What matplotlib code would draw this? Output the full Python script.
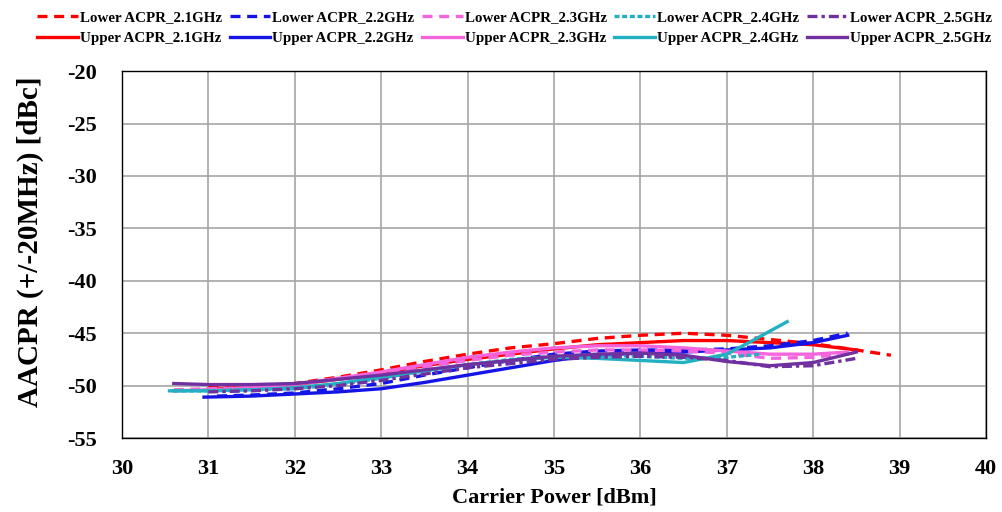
import numpy as np
import matplotlib
matplotlib.use('Agg')
import matplotlib.pyplot as plt

plt.rcParams['font.family'] = 'Liberation Serif'
plt.rcParams['font.weight'] = 'bold'
plt.rcParams['axes.unicode_minus'] = False

# carrier power [dBm] and ACPR [dBc]
x_21 = [31.0, 31.5, 32.0, 32.5, 33.0, 33.5, 34.0, 34.5, 35.0, 35.5, 36.0, 36.5, 37.0, 37.5, 38.0, 38.5, 38.9]
lower_21 = [-50.2, -50.1, -49.8, -49.2, -48.5, -47.7, -47.0, -46.4, -46.0, -45.5, -45.2, -45.0, -45.2, -45.6, -46.0, -46.6, -47.1]
x_21u = [31.0, 31.5, 32.0, 32.5, 33.0, 33.5, 34.0, 34.5, 35.0, 35.5, 36.0, 36.5, 37.0, 37.5, 38.0, 38.5]
upper_21 = [-50.3, -50.2, -49.9, -49.4, -48.8, -48.1, -47.5, -47.0, -46.5, -46.1, -45.9, -45.7, -45.7, -45.9, -46.1, -46.6]

x_22 = [31.1, 31.5, 32.0, 32.5, 33.0, 33.5, 34.0, 34.5, 35.0, 35.5, 36.0, 36.5, 37.0, 37.5, 38.0, 38.4]
lower_22 = [-51.0, -50.9, -50.7, -50.3, -49.8, -49.0, -48.3, -47.6, -47.0, -46.7, -46.6, -46.6, -46.5, -46.2, -45.7, -45.0]
x_22u = [30.95, 31.5, 32.0, 32.5, 33.0, 33.5, 34.0, 34.5, 35.0, 35.5, 36.0, 36.5, 37.0, 37.5, 38.0, 38.4]
upper_22 = [-51.1, -51.0, -50.8, -50.6, -50.3, -49.7, -49.0, -48.3, -47.6, -47.1, -46.9, -46.8, -46.6, -46.4, -45.9, -45.2]

x_23 = [30.6, 31.0, 31.5, 32.0, 32.5, 33.0, 33.5, 34.0, 34.5, 35.0, 35.5, 36.0, 36.5, 37.0, 37.5, 38.0, 38.3]
lower_23 = [-50.4, -50.3, -50.2, -49.9, -49.4, -48.8, -48.2, -47.6, -47.1, -46.8, -46.6, -46.6, -46.7, -46.9, -47.4, -47.3, -47.0]
x_23u = [30.6, 31.0, 31.5, 32.0, 32.5, 33.0, 33.5, 34.0, 34.5, 35.0, 35.5, 36.0, 36.5, 37.0, 37.5, 38.0, 38.4]
upper_23 = [-50.5, -50.4, -50.2, -49.9, -49.3, -48.7, -48.0, -47.3, -46.8, -46.4, -46.2, -46.2, -46.4, -46.7, -47.0, -47.0, -46.8]

x_24 = [30.6, 31.0, 31.5, 32.0, 32.5, 33.0, 33.5, 34.0, 34.5, 35.0, 35.5, 36.0, 36.5, 37.0, 37.4]
lower_24 = [-50.5, -50.5, -50.4, -50.3, -49.9, -49.3, -48.6, -48.0, -47.5, -47.2, -47.1, -47.2, -47.4, -47.3, -47.0]
x_24u = [30.55, 31.0, 31.5, 32.0, 32.5, 33.0, 33.5, 34.0, 34.5, 35.0, 35.5, 36.0, 36.5, 37.0, 37.3, 37.7]
upper_24 = [-50.5, -50.5, -50.4, -50.2, -49.8, -49.2, -48.6, -48.0, -47.6, -47.3, -47.4, -47.6, -47.8, -47.0, -45.7, -43.9]

x_25 = [31.0, 31.5, 32.0, 32.5, 33.0, 33.5, 34.0, 34.5, 35.0, 35.5, 36.0, 36.5, 37.0, 37.5, 38.0, 38.5]
lower_25 = [-50.6, -50.5, -50.3, -50.0, -49.5, -48.9, -48.3, -47.9, -47.5, -47.3, -47.2, -47.3, -47.6, -48.2, -48.1, -47.4]
x_25u = [30.6, 31.0, 31.5, 32.0, 32.5, 33.0, 33.5, 34.0, 34.5, 35.0, 35.5, 36.0, 36.5, 37.0, 37.5, 38.0, 38.5]
upper_25 = [-49.8, -49.9, -49.9, -49.8, -49.4, -49.0, -48.5, -48.0, -47.6, -47.2, -47.0, -46.9, -47.1, -47.7, -48.1, -47.8, -46.8]

freqs = ['2.1GHz', '2.2GHz', '2.3GHz', '2.4GHz', '2.5GHz']
colors = ['#FF0000', '#1414E6', '#F464DC', '#22B0C2', '#7030A0']
lower_styles = [(0, (3, 2)), (0, (3, 2)), (0, (3, 2)), (0, (1.5, 0.8)), (0, (3, 1.2, 1, 1.2))]
lowers = [(x_21, lower_21), (x_22, lower_22), (x_23, lower_23), (x_24, lower_24), (x_25, lower_25)]
uppers = [(x_21u, upper_21), (x_22u, upper_22), (x_23u, upper_23), (x_24u, upper_24), (x_25u, upper_25)]

fig = plt.figure(figsize=(10.03, 5.12), dpi=100)
ax = fig.add_axes([0.1216, 0.1445, 0.8614, 0.7165])

for i in range(5):
    lx, ly = lowers[i]
    ux, uy = uppers[i]
    ax.plot(lx, ly, color=colors[i], lw=2.4, linestyle=lower_styles[i],
            label='Lower ACPR_' + freqs[i])
    ax.plot(ux, uy, color=colors[i], lw=2.4, linestyle='-',
            label='Upper ACPR_' + freqs[i])

ax.set_xlim(30, 40)
ax.set_ylim(-55, -20)
ax.set_xticks(range(30, 41))
ax.set_yticks(range(-55, -19, 5))
ax.grid(True, color='#A6A6A6', lw=1.2)
ax.set_axisbelow(True)
for s in ax.spines.values():
    s.set_color('black')
    s.set_linewidth(1.0)
ax.tick_params(length=0, labelsize=16)
ax.tick_params(axis='x', pad=15)
ax.tick_params(axis='y', pad=18)
for t in ax.get_xticklabels() + ax.get_yticklabels():
    t.set_fontweight('bold')

ax.set_xlabel('Carrier Power [dBm]', fontsize=16, fontweight='bold', labelpad=6)
ax.set_ylabel('AACPR (+/-20MHz) [dBc]', fontsize=21, fontweight='bold')
ax.yaxis.set_label_coords(-0.090, 0.535)

fig.legend(loc='upper center', bbox_to_anchor=(0.513, 1.005), ncol=5, frameon=False,
           prop={'size': 10.8, 'weight': 'bold'}, handlelength=2.7, handletextpad=0.15,
           columnspacing=0.5, labelspacing=0.5)

fig.savefig('out.png', dpi=100)
